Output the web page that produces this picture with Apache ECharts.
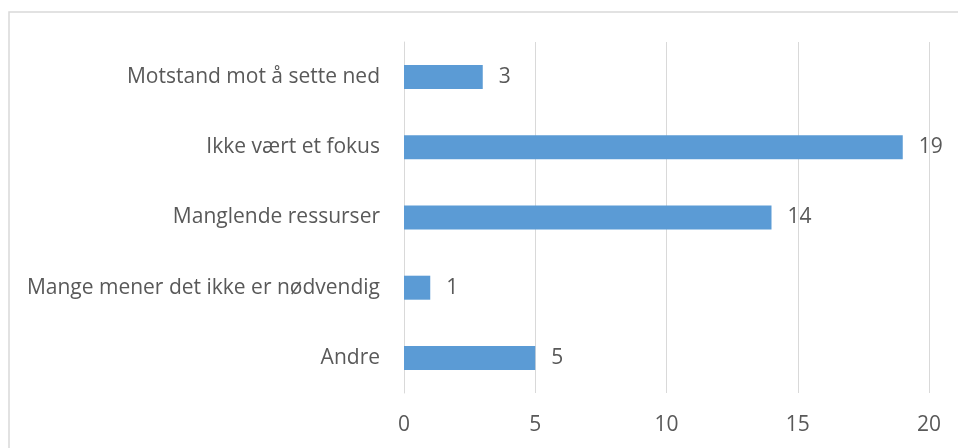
<!DOCTYPE html>
<html>
<head>
<meta charset="utf-8">
<script src="https://cdn.jsdelivr.net/npm/echarts@6/dist/echarts.min.js"></script>
<style>
  html, body { margin: 0; padding: 0; background: #fff; }
  #chart { width: 958px; height: 448px; }
</style>
</head>
<body>
<div id="chart"></div>
<script>
// kategorier, fra bunn til topp (yAxis tegnes nedenfra)
const categories = ['Andre', 'Mange mener det ikke er nødvendig', 'Manglende ressurser', 'Ikke vært et fokus', 'Motstand mot å sette ned'];
const values = [5, 1, 14, 19, 3];
const xTicks = [0, 5, 10, 15, 20];

const font = '"Open Sans", Lato, sans-serif';
const textColor = '#595959';

let myChart = echarts.init(document.getElementById('chart'));

let option = {
    animation: false,
    backgroundColor: '#fff',
    graphic: [{
        type: 'rect',
        shape: { x: 9, y: 12, width: 980, height: 480 },
        style: { fill: 'none', stroke: '#d9d9d9', lineWidth: 1.5 },
        silent: true
    }],
    grid: { left: 404, right: 29, top: 42, bottom: 55, containLabel: false },
    xAxis: {
        type: 'value',
        min: xTicks[0],
        max: xTicks[xTicks.length - 1],
        interval: 5,
        axisLine: { show: false },
        axisTick: { show: false },
        axisLabel: { color: textColor, fontFamily: font, fontSize: 21, margin: 22 },
        splitLine: { lineStyle: { color: '#d9d9d9', width: 1 } }
    },
    yAxis: {
        type: 'category',
        data: categories,
        axisLine: { lineStyle: { color: '#d9d9d9' } },
        axisTick: { show: false },
        axisLabel: { color: textColor, fontFamily: font, fontSize: 21, margin: 24 }
    },
    series: [{
        type: 'bar',
        data: values,
        barWidth: 24,
        itemStyle: { color: '#5b9bd5' },
        label: {
            show: true,
            position: 'right',
            distance: 16,
            color: textColor,
            fontFamily: font,
            fontSize: 21
        }
    }]
};

myChart.setOption(option);
</script>
</body>
</html>
